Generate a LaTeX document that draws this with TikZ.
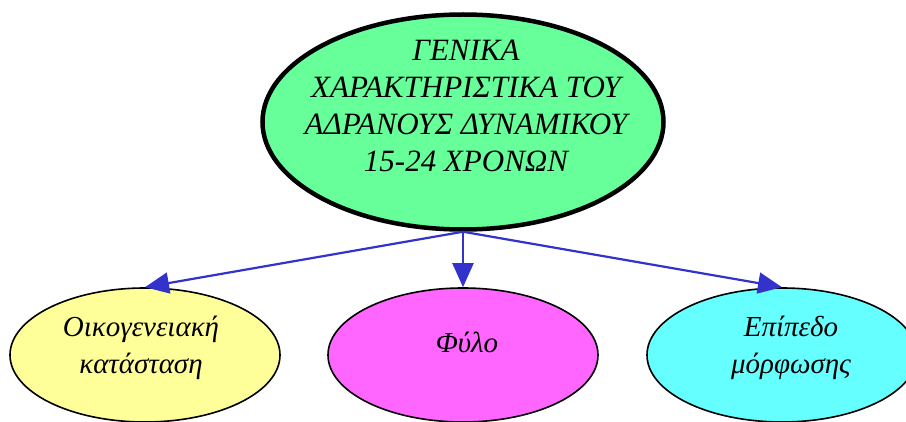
\documentclass[tikz,border=0pt]{standalone}
\usepackage{fontspec}
\setmainfont{Liberation Serif}
\usetikzlibrary{shapes.geometric,arrows.meta}
\definecolor{topc}{HTML}{66FF99}
\definecolor{famc}{HTML}{FFFF99}
\definecolor{sexc}{HTML}{FF66FF}
\definecolor{educ}{HTML}{66FFFF}
\definecolor{linkc}{HTML}{3333CC}

\begin{document}
\begin{tikzpicture}[
  x=1pt, y=-1pt,
  >={Triangle[length=24pt,width=21pt]},
  ell/.style={ellipse, draw=black, line width=1.6pt, inner sep=0pt,
              minimum width=270pt, minimum height=134pt},
  topell/.style={ellipse, draw=black, line width=4.5pt, inner sep=0pt,
                 minimum width=401pt, minimum height=215pt, fill=topc},
  toptxt/.style={font=\itshape\fontsize{31}{37}\selectfont, align=center, inner sep=0pt},
  subtxt/.style={font=\itshape\fontsize{29}{37}\selectfont, align=center, inner sep=0pt},
  link/.style={->, line width=2.2pt, draw=linkc, fill=linkc},
]
\useasboundingbox (0,0) rectangle (906,422);
\clip (0,0) rectangle (906,422);
% -- main topic
\node[topell] (main) at (463,122) {};
\node[toptxt] (maintxt) at (466,106) {ΓΕΝΙΚΑ\\ΧΑΡΑΚΤΗΡΙΣΤΙΚΑ ΤΟΥ\\ΑΔΡΑΝΟΥΣ ΔΥΝΑΜΙΚΟΥ\\15-24 ΧΡΟΝΩΝ};
% -- characteristics
\node[ell, fill=famc] (family) at (145,355) {};
\node[subtxt] (familytxt) at (141,348) {Οικογενειακή\\κατάσταση};
\node[ell, fill=sexc] (sex) at (463,355) {};
\node[subtxt] (sextxt) at (467,342) {Φύλο};
\node[ell, fill=educ] (edu) at (782,355) {};
\node[subtxt] (edutxt) at (791,348) {Επίπεδο\\μόρφωσης};
% -- links
\draw[link] (main.south) -- (family.north);
\draw[link] (main.south) -- (sex.north);
\draw[link] (main.south) -- (edu.north);
\end{tikzpicture}
\end{document}
